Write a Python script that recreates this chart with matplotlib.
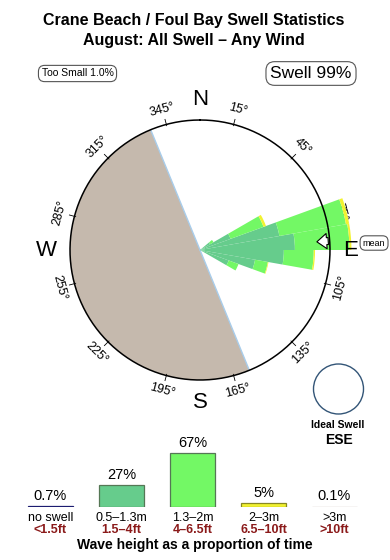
import numpy as np
import matplotlib.pyplot as plt
from matplotlib.patches import Circle

plt.rcParams['font.family'] = ['Liberation Sans', 'DejaVu Sans']

# Rose data: direction bin centres (deg) and band thickness (relative to ring radius)
directions = [55, 65, 75, 85, 95, 105, 115]
band_05_13 = [0.09, 0.25, 0.62, 0.73, 0.645, 0.43, 0.235]
band_13_2 = [0.03, 0.27, 0.52, 0.42, 0.23, 0.10, 0.08]
band_2_3 = [0.0, 0.02, 0.025, 0.015, 0.01, 0.005, 0.0]
band_colors = ['#66CC8C', '#73F865', '#F2F230']

land_from, land_to = 157.7, 337.7
mean_dir = 86

# Height distribution
categories = ['no swell', '0.5\u20131.3m', '1.3\u20132m', '2\u20133m', '>3m']
feet = ['<1.5ft', '1.5\u20134ft', '4\u20136.5ft', '6.5\u201310ft', '>10ft']
percent = [0.7, 27, 67, 5, 0.1]
pct_labels = ['0.7%', '27%', '67%', '5%', '0.1%']
bar_face = ['#1C1C70', '#66CC8C', '#73F865', '#F2F230', '#BBA8A0']
bar_edge = ['#1C1C70', '#557755', '#557755', '#888822', '#BBA8A0']

W, H = 390, 560
fig = plt.figure(figsize=(W / 100, H / 100), dpi=100)

# overlay in pixel coordinates for titles and boxes
ov = fig.add_axes([0, 0, 1, 1])
ov.set_xlim(0, W)
ov.set_ylim(H, 0)
ov.set_axis_off()

ov.text(194, 20, 'Crane Beach / Foul Bay Swell Statistics', ha='center', va='center',
        fontsize=11.5, fontweight='bold')
ov.text(194, 40, 'August: All Swell \u2013 Any Wind', ha='center', va='center',
        fontsize=11.5, fontweight='bold')
ov.text(77.5, 73.5, 'Too Small 1.0%', ha='center', va='center', fontsize=7.5,
        bbox=dict(boxstyle='round,pad=0.3,rounding_size=0.6', fc='white', ec='#555555', lw=0.8))
ov.text(311, 73.5, 'Swell 99%', ha='center', va='center', fontsize=12.5,
        bbox=dict(boxstyle='round,pad=0.25,rounding_size=0.5', fc='white', ec='#555555', lw=0.8))

ov.add_patch(Circle((338.5, 389), 25, fill=False, ec='#335577', lw=1.0))
ov.text(338, 425, 'Ideal Swell', ha='center', va='center', fontsize=7.5, fontweight='bold')
ov.text(339, 440, 'ESE', ha='center', va='center', fontsize=10, fontweight='bold')
ov.text(194.5, 545.5, 'Wave height as a proportion of time', ha='center', va='center',
        fontsize=10, fontweight='bold')

# rose
cx, cy, ring = 200, 250, 130
rmax = 1.25
R = ring * rmax
ax = fig.add_axes([(cx - R) / W, (H - cy - R) / H, 2 * R / W, 2 * R / H], projection='polar')
ax.set_theta_zero_location('N')
ax.set_theta_direction(-1)
ax.set_ylim(0, rmax)
ax.set_axis_off()

land_w = land_to - land_from
ax.bar(np.deg2rad(land_from + land_w / 2), 1.0, width=np.deg2rad(land_w), color='#C5B9AD',
       linewidth=0, zorder=1)
for a in (land_from, land_to):
    ax.plot([np.deg2rad(a)] * 2, [0, 1], color='#A9CDEB', lw=1, zorder=1.5)

# degree ticks and labels sit under the petals
for d in range(15, 360, 30):
    a = np.deg2rad(d)
    ax.plot([a, a], [0.99, 1.04], color='black', lw=0.6, zorder=1.6)
    rot = -d if (d < 90 or d > 270) else 180 - d
    ax.text(a, 1.12, f'{d}\u00b0', ha='center', va='center', rotation=rot,
            rotation_mode='anchor', fontsize=9, zorder=1.6)

theta = np.deg2rad(directions)
bottom = np.zeros(len(directions))
for band, col in zip([band_05_13, band_13_2, band_2_3], band_colors):
    ax.bar(theta, band, width=np.deg2rad(10), bottom=bottom, color=col, linewidth=0, zorder=2)
    bottom = bottom + np.array(band)

t = np.linspace(0, 2 * np.pi, 400)
ax.plot(t, np.ones_like(t), color='black', lw=1.1, zorder=3)

for lab, d, r in [('N', 0, 1.155), ('E', 90, 1.155), ('S', 180, 1.175), ('W', 270, 1.18)]:
    ax.text(np.deg2rad(d), r, lab, ha='center', va='center', fontsize=16, zorder=5)

ma = np.deg2rad(mean_dir)
ax.annotate('', xy=(ma, 0.88), xytext=(ma, 1.01),
            arrowprops=dict(arrowstyle='simple,head_length=0.7,head_width=1.1,tail_width=0.5',
                            fc='white', ec='black', lw=0.8), zorder=4)
ax.text(np.deg2rad(87.7), 1.34, 'mean', ha='center', va='center', fontsize=6.5,
        bbox=dict(boxstyle='round,pad=0.3,rounding_size=0.6', fc='white', ec='#555555', lw=0.8))

# height distribution bars
x0, step = 50.5, 71
bx = fig.add_axes([(x0 - step / 2) / W, 53 / H, 5 * step / W, 64 / H])
bx.set_xlim(-0.5, 4.5)
bx.set_ylim(0, 80)
bx.set_axis_off()
xs = np.arange(len(categories))
bx.bar(xs, percent, width=0.62, color=bar_face, edgecolor=bar_edge, linewidth=0.9)
for i in xs:
    bx.annotate(pct_labels[i], (i, percent[i]), xytext=(0, 2.5), textcoords='offset points',
                ha='center', va='bottom', fontsize=10.5)
    bx.annotate(categories[i], (i, 0), xytext=(0, -7.6), textcoords='offset points',
                ha='center', va='center', fontsize=9)
    bx.annotate(feet[i], (i, 0), xytext=(0, -16.6), textcoords='offset points',
                ha='center', va='center', fontsize=9, fontweight='bold', color='#8B1A1A')

fig.savefig('out.png', dpi=100)
